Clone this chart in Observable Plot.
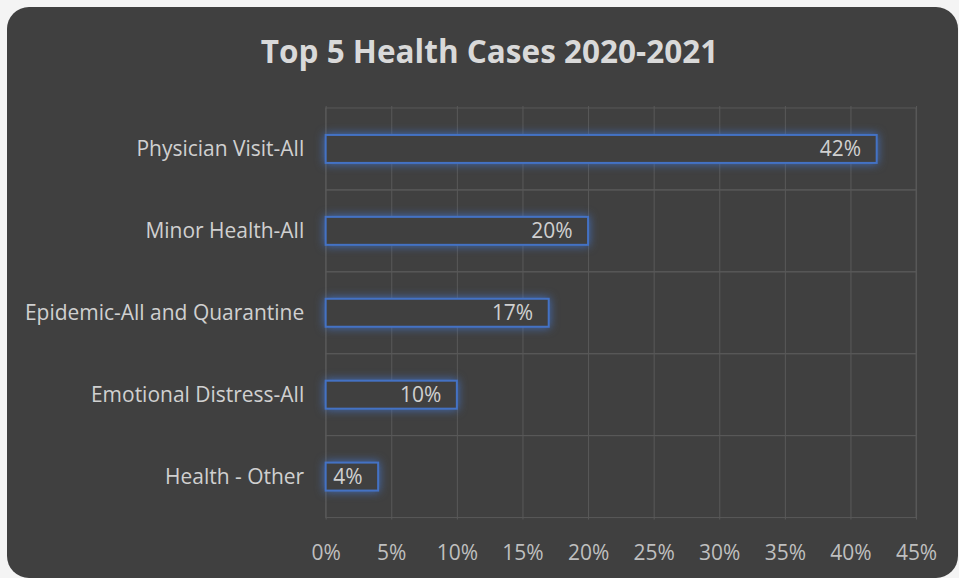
<!DOCTYPE html>
<html>
<head>
<meta charset="utf-8">
<script src="https://cdn.jsdelivr.net/npm/d3@7"></script>
<script src="https://cdn.jsdelivr.net/npm/@observablehq/plot@0.6"></script>
<style>
  html, body { margin: 0; padding: 0; background: #f4f4f4; }
  #card {
    position: absolute; left: 7px; top: 7px; width: 951px; height: 571px;
    background: #404040; border-radius: 22px; overflow: hidden;
    font-family: "Open Sans", sans-serif;
  }
  #title {
    position: absolute; left: 14px; right: 0; top: 25px;
    text-align: center; color: #d9d9d9; font-weight: bold; font-size: 31.5px; line-height: 1.2;
  }
  #chart { position: absolute; left: 0; top: 80px; }
</style>
</head>
<body>
<div id="card">
  <div id="title">Top 5 Health Cases 2020-2021</div>
  <div id="chart"></div>
</div>
<script>
const categories = ["Physician Visit-All", "Minor Health-All", "Epidemic-All and Quarantine", "Emotional Distress-All", "Health - Other"];
const values = [42, 20, 17, 10, 4];
const xTicks = [0, 5, 10, 15, 20, 25, 30, 35, 40, 45];

const data = categories.map((c, i) => ({category: c, value: values[i]}));

const chart = Plot.plot({
  width: 952,
  height: 490,
  marginLeft: 319,
  marginRight: 42,
  marginTop: 19,
  marginBottom: 57,
  style: {background: "transparent", color: "#d9d9d9", fontFamily: "Open Sans, sans-serif", fontSize: "21px"},
  x: {domain: [0, 45], label: null},
  y: {domain: categories, padding: 0, label: null},
  marks: [
    Plot.gridX(xTicks, {stroke: "#595959", strokeOpacity: 1, strokeWidth: 1}),
    Plot.barX(categories, {y: d => d, x1: 0, x2: 45, fill: "none", stroke: "#595959", strokeWidth: 1}),
    Plot.barX(data, {y: "category", x: "value", fill: "#404040", stroke: "#4472c4", strokeWidth: 2, insetTop: 27, insetBottom: 27}),
    Plot.text(data, {y: "category", x: "value", text: d => d.value + "%", textAnchor: "end", dx: -16, fill: "#d0d0d0", fontSize: 21}),
    Plot.axisX(xTicks, {tickFormat: d => d + "%", tickSize: 0, tickPadding: 25, fontSize: 21, fill: "#bfbfbf", label: null}),
    Plot.axisY({tickSize: 0, tickPadding: 22, fontSize: 21, fill: "#d0d0d0", label: null})
  ]
});
d3.select(chart).selectAll("g[aria-label='bar']").filter((d, i) => i === 1)
  .style("filter", "drop-shadow(0 0 5px rgba(68,114,196,0.9))");
document.getElementById("chart").appendChild(chart);
</script>
</body>
</html>
